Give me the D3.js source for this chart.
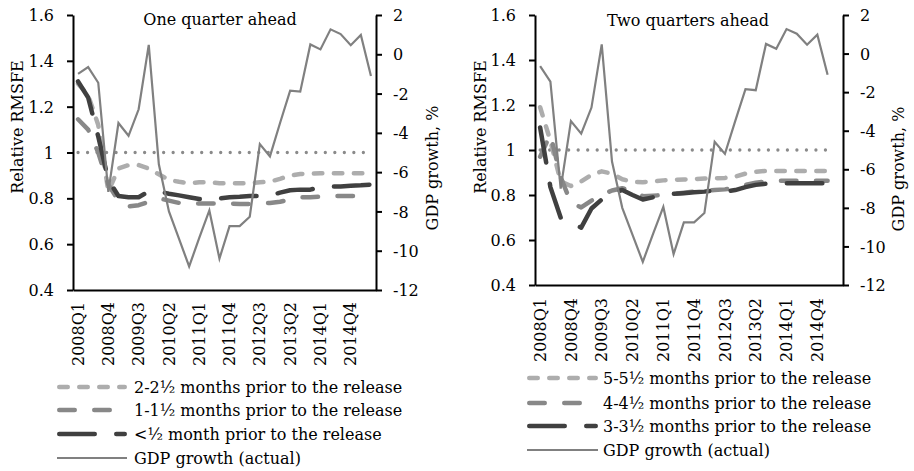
<!DOCTYPE html>
<html>
<head>
<meta charset="utf-8">
<script src="https://cdn.jsdelivr.net/npm/d3@7"></script>
<style>
  html, body { margin: 0; padding: 0; background: #fff; }
  svg text { font-family: "DejaVu Serif", "Liberation Serif", serif; fill: #000; }
</style>
</head>
<body>
<svg id="chart" width="914" height="471"></svg>
<script>
// Forecast target quarters on the horizontal axis
const quarters = [
  "2008Q1","2008Q2","2008Q3","2008Q4","2009Q1","2009Q2","2009Q3","2009Q4",
  "2010Q1","2010Q2","2010Q3","2010Q4","2011Q1","2011Q2","2011Q3","2011Q4",
  "2012Q1","2012Q2","2012Q3","2012Q4","2013Q1","2013Q2","2013Q3","2013Q4",
  "2014Q1","2014Q2","2014Q3","2014Q4","2015Q1","2015Q2"
];
const xTickLabels = ["2008Q1","2008Q4","2009Q3","2010Q2","2011Q1","2011Q4","2012Q3","2013Q2","2014Q1","2014Q4"];
const rmsfeTicks = [0.4, 0.6, 0.8, 1, 1.2, 1.4, 1.6];
const gdpTicks = [-12, -10, -8, -6, -4, -2, 0, 2];
const benchmarkLevel = 1;

// Actual GDP growth, % (right axis)
const gdpOneAhead = [
  -1.0, -0.65, -1.45, -7.0, -3.5, -4.15, -2.8, 0.48, -5.6, -8.0,
  -9.4, -10.8, -9.35, -7.95, -10.4, -8.75, -8.75, -8.27, -4.57, -5.2,
  -3.5, -1.85, -1.9, 0.5, 0.25, 1.27, 1.03, 0.46, 0.98, -1.1
];
const gdpTwoAhead = [
  -0.65, -1.45, -7.0, -3.5, -4.15, -2.8, 0.48, -5.6, -8.0,
  -9.4, -10.8, -9.35, -7.95, -10.4, -8.75, -8.75, -8.27, -4.57, -5.2,
  -3.5, -1.85, -1.9, 0.5, 0.25, 1.27, 1.03, 0.46, 0.98, -1.1
];

// Relative RMSFE, one quarter ahead
const oneAhead2to2half = [
  1.30, 1.25, 1.12, 0.83, 0.93, 0.945, 0.945, 0.93, 0.905, 0.88,
  0.872, 0.866, 0.87, 0.87, 0.866, 0.866, 0.866, 0.866, 0.87, 0.873,
  0.885, 0.90, 0.906, 0.908, 0.909, 0.909, 0.909, 0.909, 0.909, 0.909
];
const oneAhead1to1half = [
  1.145, 1.10, 1.00, 0.86, 0.79, 0.765, 0.77, 0.785, 0.80, 0.79,
  0.78, 0.778, 0.778, 0.778, 0.778, 0.777, 0.775, 0.775, 0.777, 0.78,
  0.785, 0.795, 0.805, 0.805, 0.807, 0.81, 0.81, 0.81, 0.81, 0.81
];
const oneAheadUnderHalf = [
  1.31, 1.24, 1.07, 0.88, 0.81, 0.805, 0.805, 0.83, 0.83, 0.82,
  0.813, 0.805, 0.797, 0.793, 0.80, 0.805, 0.807, 0.81, 0.81, 0.812,
  0.825, 0.835, 0.838, 0.838, 0.85, 0.852, 0.852, 0.855, 0.857, 0.86
];

// Relative RMSFE, two quarters ahead
const twoAhead5to5half = [
  1.19, 1.04, 0.86, 0.84, 0.86, 0.89, 0.905, 0.895, 0.87, 0.858,
  0.857, 0.86, 0.865, 0.867, 0.869, 0.871, 0.873, 0.874, 0.876, 0.882,
  0.895, 0.903, 0.907, 0.907, 0.907, 0.907, 0.907, 0.907, 0.907
];
const twoAhead4to4half = [
  0.97, 1.07, 0.88, 0.765, 0.745, 0.775, 0.80, 0.82, 0.83, 0.82,
  0.795, 0.797, 0.80, 0.805, 0.81, 0.815, 0.82, 0.822, 0.825, 0.832,
  0.845, 0.855, 0.86, 0.863, 0.863, 0.863, 0.863, 0.863, 0.863
];
const twoAhead3to3half = [
  1.10, 0.835, 0.70, 0.675, 0.655, 0.74, 0.78, 0.81, 0.822, 0.80,
  0.78, 0.79, 0.80, 0.805, 0.808, 0.812, 0.815, 0.82, 0.815, 0.822,
  0.835, 0.845, 0.85, 0.852, 0.852, 0.852, 0.852, 0.852, 0.852
];

// Line styles: visible dash/gap lengths with round caps
const styles = {
  light: { color: "#adadad", width: 4.5, dash: 13, gap: 7 },
  mid:   { color: "#888888", width: 4.5, dash: 20, gap: 15 },
  dark:  { color: "#404040", width: 4.5, dash: 40, gap: 17 },
  gdp:   { color: "#808080", width: 2.2 },
  bench: { color: "#8a8a8a", width: 3.3, spacing: 9.5 }
};
function dashArray(s) {
  return (s.dash - s.width) + "," + (s.gap + s.width);
}

const svg = d3.select("#chart");
svg.append("rect").attr("width", 914).attr("height", 471).attr("fill", "#fff");

function drawPanel(cfg) {
  const g = svg.append("g");
  const x = d3.scaleBand().domain(quarters).range([cfg.left, cfg.right]);
  const cx = i => x(quarters[i]) + x.bandwidth() / 2;
  const y = d3.scaleLinear().domain([0.4, 1.6]).range([cfg.bottom, cfg.top]);
  const y2 = d3.scaleLinear().domain([-12, 2]).range([cfg.bottom, cfg.top]);

  // Axes
  const axL = g.append("g").attr("transform", `translate(${cfg.left},0)`)
    .call(d3.axisLeft(y).tickValues(rmsfeTicks).tickSize(6).tickSizeOuter(0).tickPadding(13)
      .tickFormat(d => String(d)));
  const axR = g.append("g").attr("transform", `translate(${cfg.right},0)`)
    .call(d3.axisRight(y2).tickValues(gdpTicks).tickSize(6).tickSizeOuter(0).tickPadding(11)
      .tickFormat(d => String(d)));
  const axB = g.append("g").attr("transform", `translate(0,${cfg.bottom})`)
    .call(d3.axisBottom(x).tickValues(xTickLabels).tickSize(0).tickSizeOuter(0));

  [axL, axR, axB].forEach(a => {
    a.selectAll(".domain").attr("stroke", "#000").attr("stroke-width", 2);
    a.selectAll(".tick line").attr("stroke", "#000").attr("stroke-width", 2);
    a.selectAll("text").attr("font-family", null).attr("font-size", 16).attr("fill", "#000");
  });
  axL.selectAll("text").attr("dy", "0.35em");
  axR.selectAll("text").attr("dy", "0.35em");
  axB.selectAll(".tick text")
    .attr("text-anchor", "end")
    .attr("transform", `translate(0,${cfg.xLabelTop - cfg.bottom}) rotate(-90)`)
    .attr("x", 0).attr("y", 0).attr("dy", "0.35em");

  // Benchmark (relative RMSFE = 1)
  const n = cfg.series[0].values.length;
  const benchLine = d3.line().x((d, i) => cx(i)).y(d => y(d));
  g.append("path")
    .attr("d", benchLine(d3.range(n).map(() => benchmarkLevel)))
    .attr("fill", "none")
    .attr("stroke", styles.bench.color)
    .attr("stroke-width", styles.bench.width)
    .attr("stroke-linecap", "round")
    .attr("stroke-dasharray", "0.01," + styles.bench.spacing);

  // Relative RMSFE series
  const line = d3.line().x((d, i) => cx(i)).y(d => y(d));
  cfg.series.forEach(s => {
    const st = styles[s.style];
    g.append("path")
      .attr("d", line(s.values))
      .attr("fill", "none")
      .attr("stroke", st.color)
      .attr("stroke-width", st.width)
      .attr("stroke-linecap", "round")
      .attr("stroke-linejoin", "round")
      .attr("stroke-dasharray", dashArray(st));
  });

  // GDP growth on the secondary axis
  const gLine = d3.line().x((d, i) => cx(i)).y(d => y2(d));
  g.append("path")
    .attr("d", gLine(cfg.gdp))
    .attr("fill", "none")
    .attr("stroke", styles.gdp.color)
    .attr("stroke-width", styles.gdp.width)
    .attr("stroke-linejoin", "miter");

  // Titles
  g.append("text").attr("x", cfg.titleX).attr("y", cfg.titleY)
    .attr("text-anchor", "middle").attr("font-size", 16).text(cfg.title);
  g.append("text")
    .attr("transform", `translate(${cfg.yTitleX},${cfg.yTitleY}) rotate(-90)`)
    .attr("text-anchor", "middle").attr("dy", "0.35em").attr("font-size", 16)
    .text("Relative RMSFE");
  g.append("text")
    .attr("transform", `translate(${cfg.y2TitleX},${cfg.y2TitleY}) rotate(-90)`)
    .attr("text-anchor", "middle").attr("dy", "0.35em").attr("font-size", 16)
    .text("GDP growth, %");

  // Legend
  const legendItems = cfg.series.map(s => ({ label: s.label, style: s.style }))
    .concat([{ label: "GDP growth (actual)", style: "gdp" }]);
  legendItems.forEach((it, k) => {
    const st = styles[it.style];
    const ly = cfg.legendRows[k];
    const dashed = it.style !== "gdp";
    g.append("line")
      .attr("x1", cfg.legendX0 + (dashed ? st.width / 2 : 0))
      .attr("x2", cfg.legendX1 - (dashed ? st.width / 2 : 0))
      .attr("y1", ly).attr("y2", ly)
      .attr("stroke", st.color).attr("stroke-width", st.width)
      .attr("stroke-linecap", dashed ? "round" : "butt")
      .attr("stroke-dasharray", dashed ? dashArray(st) : null);
    g.append("text").attr("x", cfg.legendTextX).attr("y", ly).attr("dy", "0.35em")
      .attr("font-size", 16).text(it.label);
  });
}

drawPanel({
  left: 73, right: 376, top: 15, bottom: 290, xLabelTop: 302,
  title: "One quarter ahead", titleX: 220, titleY: 25,
  yTitleX: 17.5, yTitleY: 127, y2TitleX: 432, y2TitleY: 168,
  legendX0: 57, legendX1: 127, legendTextX: 134, legendRows: [387, 410, 434, 458],
  gdp: gdpOneAhead,
  series: [
    { label: "2-2½ months prior to the release", style: "light", values: oneAhead2to2half },
    { label: "1-1½ months prior to the release", style: "mid", values: oneAhead1to1half },
    { label: "<½ month prior to the release", style: "dark", values: oneAheadUnderHalf }
  ]
});

drawPanel({
  left: 535, right: 843, top: 15, bottom: 285, xLabelTop: 298,
  title: "Two quarters ahead", titleX: 688, titleY: 26,
  yTitleX: 480, yTitleY: 127, y2TitleX: 898, y2TitleY: 169,
  legendX0: 527, legendX1: 598, legendTextX: 603, legendRows: [378, 403, 426, 450],
  gdp: gdpTwoAhead,
  series: [
    { label: "5-5½ months prior to the release", style: "light", values: twoAhead5to5half },
    { label: "4-4½ months prior to the release", style: "mid", values: twoAhead4to4half },
    { label: "3-3½ months prior to the release", style: "dark", values: twoAhead3to3half }
  ]
});
</script>
</body>
</html>
